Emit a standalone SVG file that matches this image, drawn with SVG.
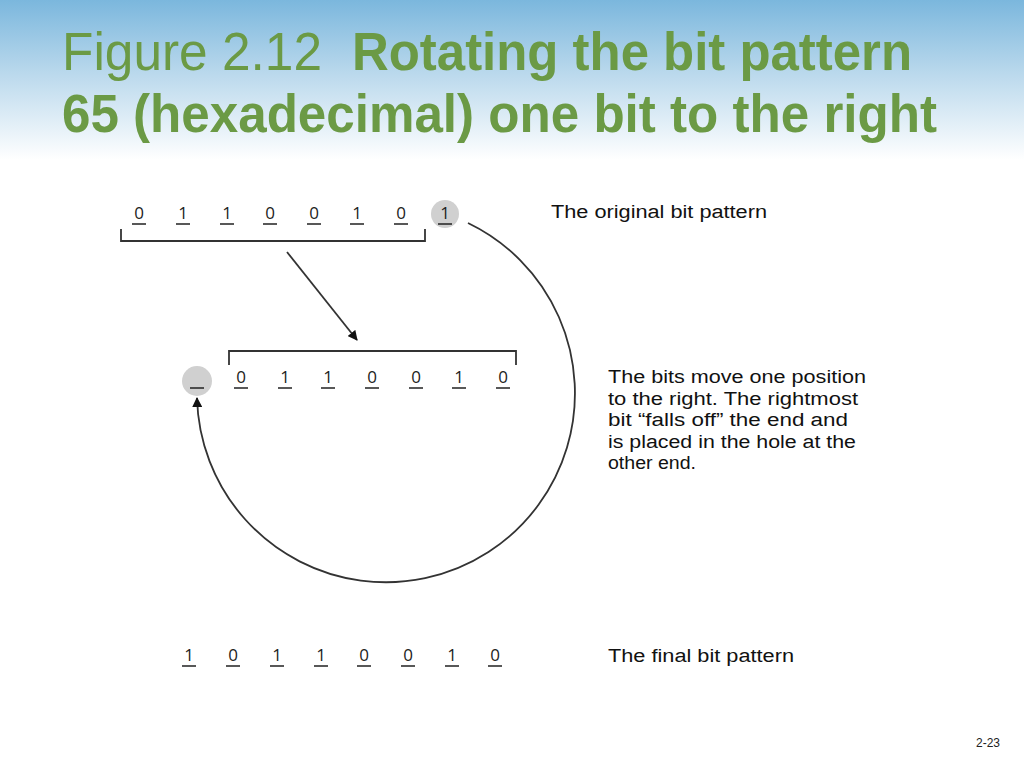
<svg xmlns="http://www.w3.org/2000/svg" width="1024" height="768" viewBox="0 0 1024 768">
<defs>
<linearGradient id="bg" x1="0" y1="0" x2="0" y2="1">
<stop offset="0" stop-color="#7bb7dd"/>
<stop offset="0.45" stop-color="#b9d8ec"/>
<stop offset="1" stop-color="#ffffff"/>
</linearGradient>
<marker id="ah" markerWidth="10" markerHeight="10" refX="9" refY="5" orient="auto" markerUnits="userSpaceOnUse">
<path d="M0,0 L10,5 L0,10 Z" fill="#111"/>
</marker>
<style>
.title{font-family:"Liberation Sans",Arial,sans-serif;fill:#6b9a45;font-size:53px}
.b{font-weight:bold}
.bit{font-family:"Open Sans","Noto Sans",sans-serif;font-size:17px;fill:#222;text-anchor:middle}
.ul{stroke:#222;stroke-width:1.5}
.lbl{font-family:"Liberation Sans",Arial,sans-serif;font-size:18px;fill:#111}
.ln{fill:none;stroke:#333;stroke-width:1.8}
.hole{fill:#d0d0d0}
</style>
</defs>
<rect x="0" y="0" width="1024" height="160" fill="url(#bg)"/>
<g id="title">
<text class="title" x="62" y="70" textLength="260" lengthAdjust="spacingAndGlyphs">Figure 2.12</text>
<text class="title b" x="352" y="70" textLength="560" lengthAdjust="spacingAndGlyphs">Rotating the bit pattern</text>
<text class="title b" x="62" y="132" textLength="875" lengthAdjust="spacingAndGlyphs">65 (hexadecimal) one bit to the right</text>
</g>
<g id="row-original">
<circle class="hole" cx="445" cy="214" r="14"/>
<g class="bit">
<text x="139" y="219">0</text><text x="183" y="219">1</text><text x="227" y="219">1</text><text x="270" y="219">0</text>
<text x="314" y="219">0</text><text x="357" y="219">1</text><text x="401" y="219">0</text><text x="445" y="219">1</text>
</g>
<path class="ul" d="M132,224h14M176,224h14M220,224h14M263,224h14M307,224h14M350,224h14M394,224h14M438,224h14"/>
<path class="ln" d="M121,229V241H425V229"/>
<text class="lbl" x="551" y="218" textLength="216" lengthAdjust="spacingAndGlyphs">The original bit pattern</text>
</g>
<g id="row-shifted">
<circle class="hole" cx="197" cy="381" r="15"/>
<g class="bit">
<text x="241" y="383">0</text><text x="285" y="383">1</text><text x="328" y="383">1</text><text x="372" y="383">0</text>
<text x="416" y="383">0</text><text x="459" y="383">1</text><text x="503" y="383">0</text>
</g>
<path class="ul" d="M190,388h14M234,388h14M278,388h14M321,388h14M365,388h14M409,388h14M452,388h14M496,388h14"/>
<path class="ln" d="M229,365V351H516V365"/>
<text class="lbl" x="608" y="383" textLength="258" lengthAdjust="spacingAndGlyphs">The bits move one position</text>
<text class="lbl" x="608" y="404.5" textLength="250" lengthAdjust="spacingAndGlyphs">to the right. The rightmost</text>
<text class="lbl" x="608" y="426" textLength="240" lengthAdjust="spacingAndGlyphs">bit “falls off” the end and</text>
<text class="lbl" x="608" y="447.5" textLength="248" lengthAdjust="spacingAndGlyphs">is placed in the hole at the</text>
<text class="lbl" x="608" y="469" textLength="88" lengthAdjust="spacingAndGlyphs">other end.</text>
</g>
<g id="row-final">
<g class="bit">
<text x="189" y="661">1</text><text x="233" y="661">0</text><text x="277" y="661">1</text><text x="321" y="661">1</text>
<text x="364" y="661">0</text><text x="408" y="661">0</text><text x="452" y="661">1</text><text x="495" y="661">0</text>
</g>
<path class="ul" d="M182,666h14M226,666h14M270,666h14M314,666h14M357,666h14M401,666h14M445,666h14M488,666h14"/>
<text class="lbl" x="608" y="662" textLength="186" lengthAdjust="spacingAndGlyphs">The final bit pattern</text>
</g>
<g id="connectors">
<path class="ln" d="M287,252L357,340" marker-end="url(#ah)"/>
<path class="ln" d="M468,223A189,189 0 1 1 197,398" marker-end="url(#ah)"/>
</g>
<text x="976" y="747" font-family="Liberation Sans,Arial,sans-serif" font-size="12" fill="#222">2-23</text>
</svg>
